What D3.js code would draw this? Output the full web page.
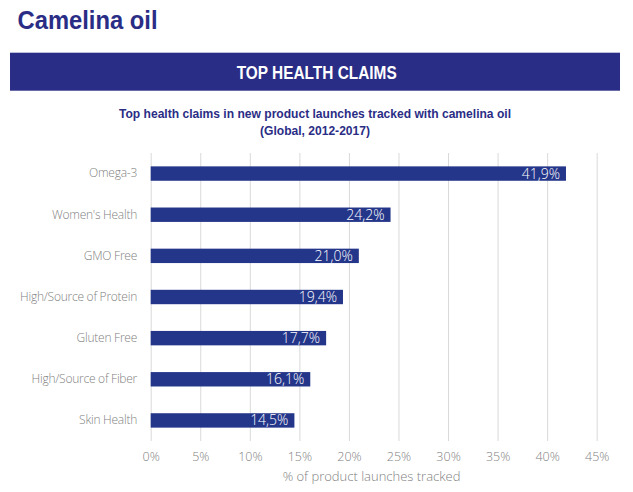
<!DOCTYPE html>
<html><head><meta charset="utf-8">
<script src="https://cdn.jsdelivr.net/npm/d3@7"></script>
<style>
html,body{margin:0;padding:0;background:#fff;}
svg{display:block;}
</style></head>
<body>
<svg id="chart" width="633" height="492"></svg>
<script>
const categories = ["Omega-3","Women's Health","GMO Free","High/Source of Protein","Gluten Free","High/Source of Fiber","Skin Health"];
const values = [41.9, 24.2, 21.0, 19.4, 17.7, 16.1, 14.5];
const tickValues = [0,5,10,15,20,25,30,35,40,45];
const pageTitle = "Camelina oil";
const bannerText = "TOP HEALTH CLAIMS";
const subtitleLines = ["Top health claims in new product launches tracked with camelina oil","(Global, 2012-2017)"];
const axisTitle = "% of product launches tracked";

const svg = d3.select("#chart");
const navy = "#2a2d85";
const barColor = "#24368a";
const lightFont = "'Open Sans', 'Segoe UI', sans-serif";
const boldFont = "'Liberation Sans', Arial, sans-serif";

// Title
svg.append("text").attr("x",17.5).attr("y",29.3)
  .attr("font-family",boldFont).attr("font-weight","bold").attr("font-size",26)
  .attr("fill",navy).attr("textLength",140).attr("lengthAdjust","spacingAndGlyphs")
  .text(pageTitle);

// Banner
svg.append("rect").attr("x",10).attr("y",52.7).attr("width",610).attr("height",38).attr("fill",navy);
svg.append("text").attr("x",316.7).attr("y",79.3).attr("text-anchor","middle")
  .attr("font-family",boldFont).attr("font-weight","bold").attr("font-size",18.5)
  .attr("fill","#fff").attr("textLength",160).attr("lengthAdjust","spacingAndGlyphs")
  .text(bannerText);

// Subtitle
const subW = [392, 110];
const subY = [118.3, 135];
subtitleLines.forEach((t,i)=>{
  svg.append("text").attr("x",315).attr("y",subY[i]).attr("text-anchor","middle")
    .attr("font-family",boldFont).attr("font-weight","bold").attr("font-size",13)
    .attr("fill",navy).attr("textLength",subW[i]).attr("lengthAdjust","spacingAndGlyphs")
    .text(t);
});

// Scales
const x = d3.scaleLinear().domain([0,45]).range([150.7,596.7]);
const y = d3.scaleBand().domain(categories).range([153,441]).paddingInner(0.65).paddingOuter(0.325);

// Gridlines
svg.append("g").selectAll("line").data(tickValues).join("line")
  .attr("x1",d=>x(d)+0.5).attr("x2",d=>x(d)+0.5)
  .attr("y1",153).attr("y2",441)
  .attr("stroke","#d9d9d9").attr("stroke-width",1);

// X axis (labels only)
const xAxis = d3.axisBottom(x).tickValues(tickValues).tickSize(0).tickPadding(0).tickFormat(d=>d+"%");
const gx = svg.append("g").attr("transform","translate(0,452)").call(xAxis);
gx.select(".domain").remove();
gx.selectAll("text").attr("font-family",lightFont).attr("font-weight",300)
  .attr("font-size",12.5).attr("fill","#7f7f7f").attr("dy","0.71em").attr("y",0);

// Y axis (labels only)
const yAxis = d3.axisLeft(y).tickSize(0).tickPadding(0);
const gy = svg.append("g").attr("transform","translate(137,0)").call(yAxis);
gy.select(".domain").remove();
gy.selectAll("text").attr("font-family",lightFont).attr("font-weight",300)
  .attr("font-size",12).attr("letter-spacing",-0.25).attr("fill","#7f7f7f");

// Bars
svg.append("g").selectAll("rect").data(values).join("rect")
  .attr("x",x(0)).attr("y",(d,i)=>y(categories[i]))
  .attr("width",d=>x(d)-x(0)).attr("height",y.bandwidth())
  .attr("fill",barColor);

// Value labels
svg.append("g").selectAll("text").data(values).join("text")
  .attr("x",d=>x(d)-6).attr("y",(d,i)=>y(categories[i])+y.bandwidth()/2)
  .attr("dy","0.36em").attr("text-anchor","end")
  .attr("font-family",lightFont).attr("font-weight",300).attr("font-size",14)
  .attr("fill","#fff")
  .text(d=>d.toFixed(1).replace(".",",")+"%");

// Axis title
svg.append("text").attr("x",371.5).attr("y",481).attr("text-anchor","middle")
  .attr("font-family",lightFont).attr("font-weight",300).attr("font-size",13)
  .attr("fill","#7f7f7f").text(axisTitle);
</script>
</body></html>
